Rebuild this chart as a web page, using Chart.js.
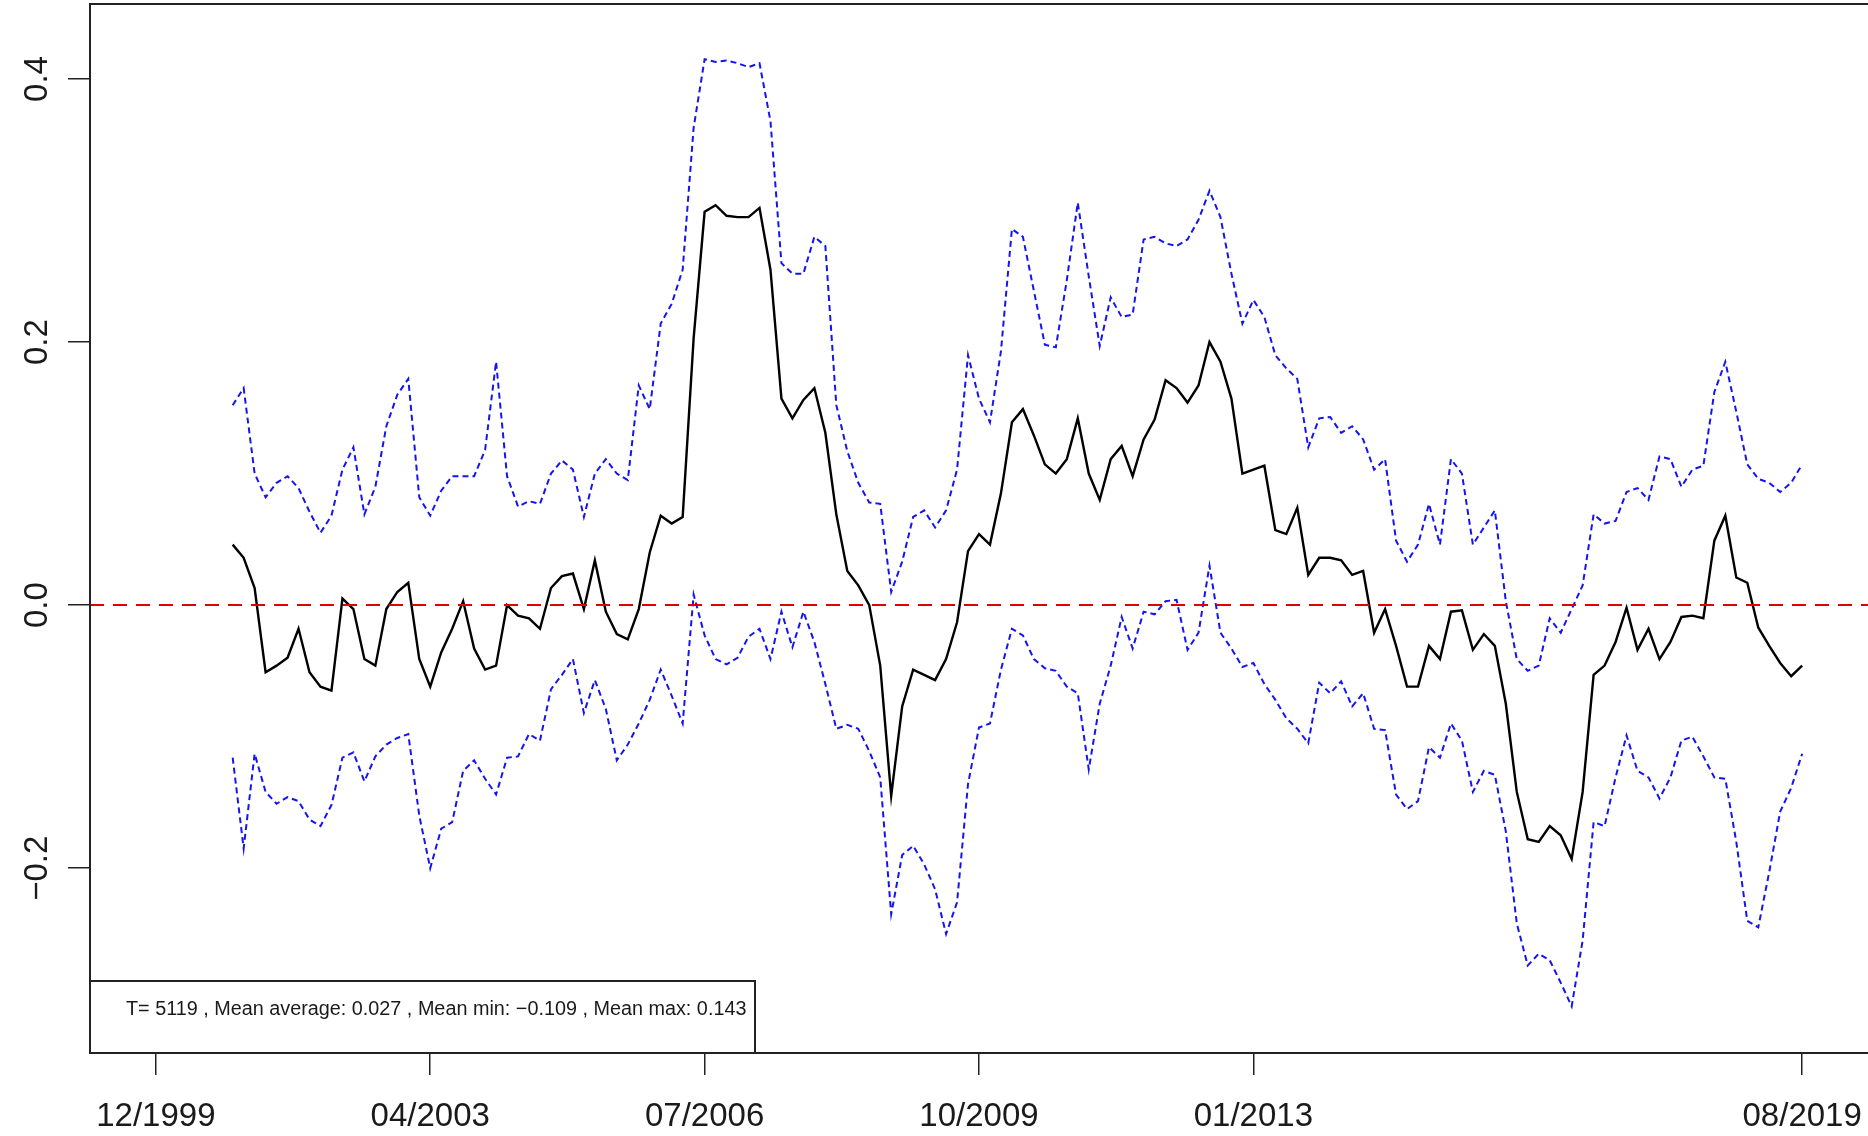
<!DOCTYPE html>
<html>
<head>
<meta charset="utf-8">
<title>Mean average, min and max</title>
<script src="https://cdn.jsdelivr.net/npm/chart.js@4.4.1/dist/chart.umd.min.js"></script>
<style>
  html, body { margin: 0; padding: 0; background: #fff; }
  #wrap { width: 1868px; height: 1136px; position: relative; }
</style>
</head>
<body>
<div id="wrap"><canvas id="chart"></canvas></div>
<script>
// x is in "tick units": 0 = 12/1999, 1 = 04/2003 ... 6 = 08/2019
const X_START = 0.28;
const X_STEP = 0.04;
const X_MIN = -0.24, X_MAX = 6.24;
const Y_MIN = -0.3405, Y_MAX = 0.457;

const xTickValues = [0, 1, 2, 3, 4, 6];
const xTickLabels = ['12/1999', '04/2003', '07/2006', '10/2009', '01/2013', '08/2019'];
const yTickValues = [-0.2, 0, 0.2, 0.4];
const yTickLabels = ['\u22120.2', '0.0', '0.2', '0.4'];

const legendText = 'T= 5119 , Mean average: 0.027 , Mean min: \u22120.109 , Mean max: 0.143';

const meanAvg = [
  0.046, 0.036, 0.013, -0.051, -0.046, -0.040, -0.018, -0.051, -0.062, -0.065,
  0.005, -0.003, -0.041, -0.046, -0.003, 0.010, 0.017, -0.041, -0.062, -0.036,
  -0.018, 0.003, -0.033, -0.049, -0.046, 0.000, -0.008, -0.010, -0.018, 0.013,
  0.022, 0.024, -0.003, 0.034, -0.005, -0.022, -0.026, -0.003, 0.040, 0.068,
  0.062, 0.067, 0.203, 0.299, 0.304, 0.296, 0.295, 0.295, 0.302, 0.255,
  0.157, 0.142, 0.156, 0.165, 0.131, 0.069, 0.026, 0.015, 0.000, -0.046,
  -0.145, -0.077, -0.049, -0.053, -0.057, -0.041, -0.013, 0.041, 0.054, 0.046,
  0.085, 0.139, 0.149, 0.129, 0.107, 0.100, 0.111, 0.142, 0.100, 0.080,
  0.111, 0.121, 0.098, 0.126, 0.141, 0.171, 0.165, 0.154, 0.167, 0.200,
  0.185, 0.157, 0.100, 0.103, 0.106, 0.057, 0.054, 0.074, 0.023, 0.036,
  0.036, 0.034, 0.023, 0.026, -0.021, -0.003, -0.031, -0.062, -0.062, -0.031,
  -0.041, -0.005, -0.004, -0.034, -0.022, -0.031, -0.075, -0.142, -0.178, -0.180,
  -0.168, -0.175, -0.193, -0.142, -0.053, -0.046, -0.028, -0.002, -0.034, -0.018,
  -0.041, -0.028, -0.009, -0.008, -0.010, 0.049, 0.068, 0.021, 0.017, -0.017,
  -0.031, -0.044, -0.054, -0.046
];

const meanMax = [
  0.152, 0.165, 0.100, 0.082, 0.093, 0.098, 0.089, 0.071, 0.055, 0.068,
  0.103, 0.120, 0.069, 0.090, 0.136, 0.160, 0.172, 0.082, 0.068, 0.087,
  0.098, 0.098, 0.098, 0.118, 0.185, 0.098, 0.075, 0.079, 0.077, 0.100,
  0.110, 0.103, 0.067, 0.100, 0.111, 0.100, 0.095, 0.167, 0.149, 0.214,
  0.229, 0.255, 0.363, 0.415, 0.413, 0.414, 0.412, 0.409, 0.412, 0.368,
  0.260, 0.252, 0.252, 0.280, 0.273, 0.152, 0.117, 0.093, 0.078, 0.077,
  0.010, 0.033, 0.067, 0.072, 0.059, 0.072, 0.103, 0.190, 0.157, 0.139,
  0.193, 0.286, 0.280, 0.239, 0.198, 0.196, 0.247, 0.306, 0.250, 0.197,
  0.234, 0.219, 0.221, 0.278, 0.280, 0.275, 0.273, 0.278, 0.293, 0.315,
  0.295, 0.252, 0.214, 0.232, 0.219, 0.190, 0.180, 0.172, 0.120, 0.142,
  0.143, 0.131, 0.136, 0.126, 0.103, 0.111, 0.049, 0.033, 0.046, 0.077,
  0.046, 0.111, 0.100, 0.046, 0.059, 0.072, 0.003, -0.041, -0.050, -0.046,
  -0.010, -0.021, -0.003, 0.015, 0.069, 0.062, 0.064, 0.086, 0.089, 0.080,
  0.113, 0.111, 0.090, 0.103, 0.106, 0.162, 0.185, 0.147, 0.107, 0.096,
  0.093, 0.086, 0.093, 0.107
];

const meanMin = [
  -0.116, -0.185, -0.113, -0.142, -0.151, -0.146, -0.149, -0.163, -0.168, -0.152,
  -0.116, -0.112, -0.134, -0.115, -0.106, -0.101, -0.098, -0.160, -0.200, -0.170,
  -0.165, -0.126, -0.118, -0.132, -0.144, -0.116, -0.115, -0.098, -0.103, -0.064,
  -0.053, -0.041, -0.082, -0.057, -0.079, -0.118, -0.106, -0.090, -0.072, -0.049,
  -0.069, -0.090, 0.008, -0.023, -0.041, -0.045, -0.040, -0.024, -0.018, -0.041,
  -0.005, -0.032, -0.005, -0.028, -0.060, -0.094, -0.091, -0.094, -0.111, -0.131,
  -0.235, -0.190, -0.183, -0.197, -0.216, -0.250, -0.226, -0.136, -0.093, -0.090,
  -0.049, -0.018, -0.023, -0.041, -0.048, -0.050, -0.062, -0.067, -0.125, -0.075,
  -0.046, -0.009, -0.033, -0.005, -0.007, 0.003, 0.004, -0.034, -0.021, 0.030,
  -0.021, -0.033, -0.047, -0.044, -0.060, -0.072, -0.086, -0.094, -0.105, -0.059,
  -0.067, -0.058, -0.077, -0.067, -0.094, -0.095, -0.144, -0.155, -0.149, -0.108,
  -0.116, -0.090, -0.103, -0.142, -0.126, -0.129, -0.172, -0.242, -0.274, -0.265,
  -0.270, -0.287, -0.305, -0.255, -0.165, -0.168, -0.131, -0.099, -0.126, -0.131,
  -0.147, -0.131, -0.103, -0.100, -0.115, -0.131, -0.132, -0.180, -0.240, -0.245,
  -0.203, -0.157, -0.139, -0.113
];

const FONT = '"Liberation Sans", Arial, Helvetica, sans-serif';

const toPoints = vals => vals.map((v, i) => ({ x: X_START + i * X_STEP, y: v }));

// R-style box, rotated y labels and the bottom-left info box
const rDecor = {
  id: 'rDecor',
  afterDraw(chart) {
    const { ctx, chartArea: a } = chart;
    const yScale = chart.scales.y;
    ctx.save();

    ctx.strokeStyle = '#222';
    ctx.lineWidth = 2;
    ctx.beginPath();
    ctx.moveTo(a.right + 2, a.top);
    ctx.lineTo(a.left, a.top);
    ctx.lineTo(a.left, a.bottom);
    ctx.lineTo(a.right + 2, a.bottom);
    ctx.stroke();

    ctx.fillStyle = '#1a1a1a';
    ctx.font = '33px ' + FONT;
    ctx.textAlign = 'center';
    ctx.textBaseline = 'middle';
    yTickValues.forEach((v, i) => {
      ctx.save();
      ctx.translate(a.left - 52, yScale.getPixelForValue(v));
      ctx.rotate(-Math.PI / 2);
      ctx.fillText(yTickLabels[i], 0, 0);
      ctx.restore();
    });

    const boxW = 665, boxH = 72;
    ctx.fillStyle = '#fff';
    ctx.fillRect(a.left, a.bottom - boxH, boxW, boxH);
    ctx.strokeRect(a.left, a.bottom - boxH, boxW, boxH);
    ctx.fillStyle = '#1a1a1a';
    ctx.font = '20px ' + FONT;
    ctx.textAlign = 'left';
    ctx.save();
    ctx.translate(a.left + 36, a.bottom - boxH * 0.6);
    ctx.scale(0.99, 1);
    ctx.fillText(legendText, 0, 0);
    ctx.restore();

    ctx.restore();
  }
};

const tickGrid = { drawOnChartArea: false, drawTicks: true, tickLength: 22, color: '#222', lineWidth: 1.5 };

new Chart(document.getElementById('chart').getContext('2d'), {
  type: 'line',
  data: {
    datasets: [
      {
        label: 'Mean max',
        data: toPoints(meanMax),
        borderColor: '#1414f0',
        borderWidth: 2,
        borderDash: [6, 4],
        order: 3
      },
      {
        label: 'Mean min',
        data: toPoints(meanMin),
        borderColor: '#1414f0',
        borderWidth: 2,
        borderDash: [6, 4],
        order: 2
      },
      {
        label: 'Mean average',
        data: toPoints(meanAvg),
        borderColor: '#000',
        borderWidth: 2.4,
        order: 1
      },
      {
        label: 'zero',
        data: [{ x: X_MIN, y: 0 }, { x: X_MAX, y: 0 }],
        borderColor: '#e00000',
        borderWidth: 2,
        borderDash: [14, 9],
        order: 0
      }
    ]
  },
  options: {
    responsive: true,
    maintainAspectRatio: false,
    animation: false,
    devicePixelRatio: 1,
    layout: { padding: { top: 4, right: 0, bottom: 0, left: 0 } },
    elements: { point: { radius: 0 }, line: { tension: 0 } },
    plugins: { legend: { display: false }, tooltip: { enabled: false } },
    scales: {
      x: {
        type: 'linear',
        min: X_MIN,
        max: X_MAX,
        afterBuildTicks: s => { s.ticks = xTickValues.map(v => ({ value: v })); },
        afterFit: s => {
          s.height = 83;
          s.paddingLeft = 0;
          s.paddingRight = 0;
        },
        ticks: {
          autoSkip: false,
          maxRotation: 0,
          minRotation: 0,
          padding: 22,
          color: '#1a1a1a',
          font: { family: FONT, size: 33 },
          callback: (v, i) => xTickLabels[i]
        },
        grid: tickGrid,
        border: { display: false }
      },
      y: {
        type: 'linear',
        min: Y_MIN,
        max: Y_MAX,
        afterBuildTicks: s => { s.ticks = yTickValues.map(v => ({ value: v })); },
        afterFit: s => {
          s.width = 90;
          s.paddingTop = 0;
          s.paddingBottom = 0;
        },
        ticks: { display: false },
        grid: tickGrid,
        border: { display: false }
      }
    }
  },
  plugins: [rDecor]
});
</script>
</body>
</html>
